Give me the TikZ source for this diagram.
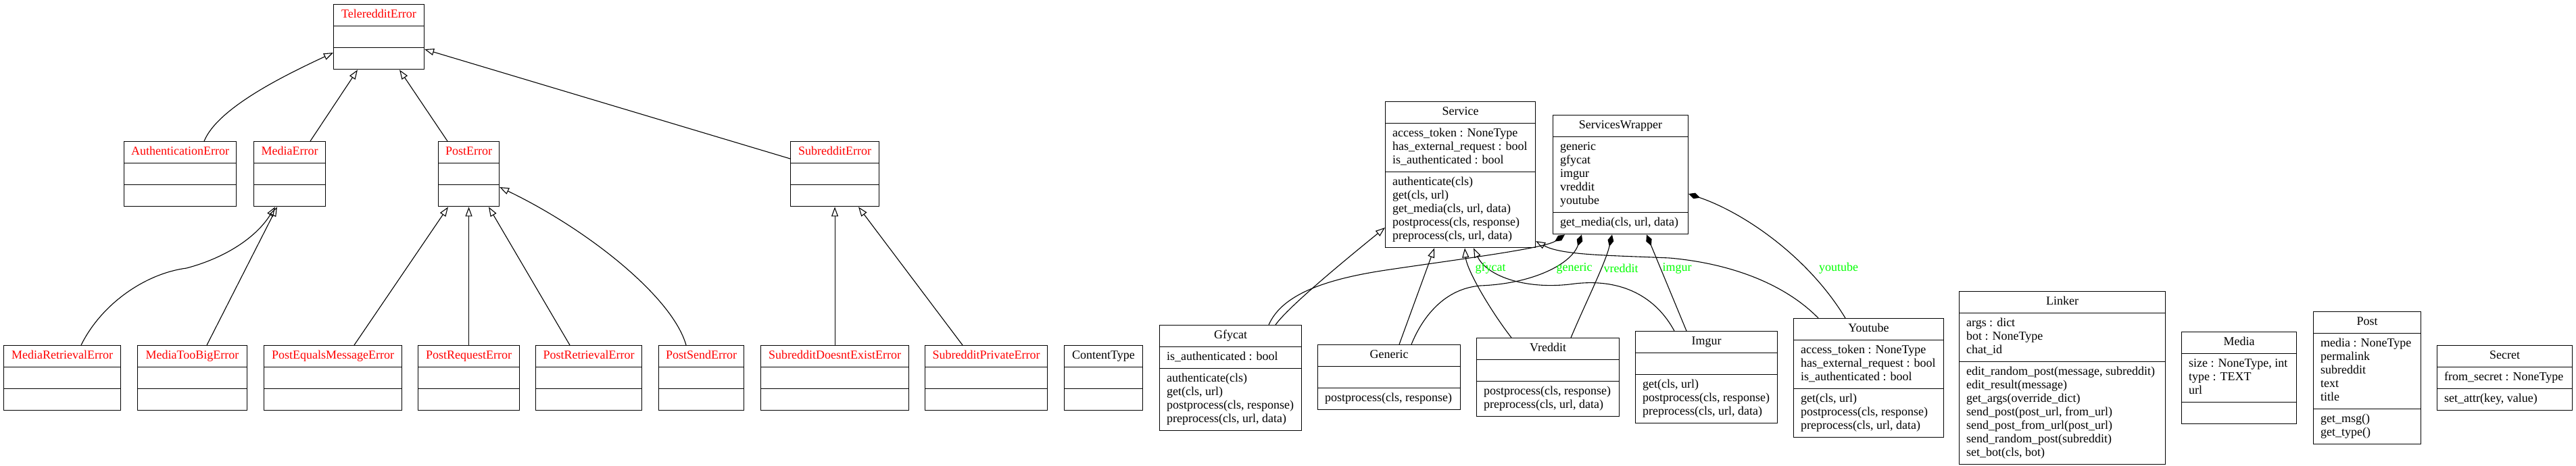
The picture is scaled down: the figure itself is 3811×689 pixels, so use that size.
\documentclass[tikz,border=0pt]{standalone}
\usepackage{fontspec}
\setmainfont{Liberation Serif}
\usetikzlibrary{shapes.multipart,arrows.meta}

\begin{document}
\begin{tikzpicture}[
            x = 1pt, y = -1pt, % one unit per pixel, y downwards
            font = \fontsize{18}{20}\selectfont,
            line width = 1.1pt,
            umlclass/.style = {draw, rectangle split, rectangle split parts=3,
                rectangle split part align={center,left,left}, align=left,
                inner xsep=10.5pt, inner ysep=5.5pt, anchor=north west,
                minimum width=#1},
            inherit/.style = {-{Triangle[open,length=14pt,width=10pt]}}, % is-a
            compose/.style = {{Diamond[length=18pt,width=9pt]}-}, % owns
            role/.style = {text=green, inner sep=0pt}
        ]

\useasboundingbox (0,0) rectangle (3811,689);

% error classes
\node[umlclass=134pt] (TeleredditError) at (493,6) {\strut\textcolor{red}{TeleredditError}\nodepart{two}\strut\nodepart{three}\strut};
\node[umlclass=166pt] (AuthenticationError) at (183,209) {\strut\textcolor{red}{AuthenticationError}\nodepart{two}\strut\nodepart{three}\strut};
\node[umlclass=106pt] (MediaError) at (375,209) {\strut\textcolor{red}{MediaError}\nodepart{two}\strut\nodepart{three}\strut};
\node[umlclass=90pt] (PostError) at (648,209) {\strut\textcolor{red}{PostError}\nodepart{two}\strut\nodepart{three}\strut};
\node[umlclass=131pt] (SubredditError) at (1169,209) {\strut\textcolor{red}{SubredditError}\nodepart{two}\strut\nodepart{three}\strut};

\node[umlclass=173pt] (MediaRetrievalError) at (5,511) {\strut\textcolor{red}{MediaRetrievalError}\nodepart{two}\strut\nodepart{three}\strut};
\node[umlclass=162pt] (MediaTooBigError) at (203,511) {\strut\textcolor{red}{MediaTooBigError}\nodepart{two}\strut\nodepart{three}\strut};
\node[umlclass=204pt] (PostEqualsMessageError) at (390,511) {\strut\textcolor{red}{PostEqualsMessageError}\nodepart{two}\strut\nodepart{three}\strut};
\node[umlclass=150pt] (PostRequestError) at (618,511) {\strut\textcolor{red}{PostRequestError}\nodepart{two}\strut\nodepart{three}\strut};
\node[umlclass=157pt] (PostRetrievalError) at (792,511) {\strut\textcolor{red}{PostRetrievalError}\nodepart{two}\strut\nodepart{three}\strut};
\node[umlclass=126pt] (PostSendError) at (974,511) {\strut\textcolor{red}{PostSendError}\nodepart{two}\strut\nodepart{three}\strut};
\node[umlclass=219pt] (SubredditDoesntExistError) at (1125,511) {\strut\textcolor{red}{SubredditDoesntExistError}\nodepart{two}\strut\nodepart{three}\strut};
\node[umlclass=181pt] (SubredditPrivateError) at (1368,511) {\strut\textcolor{red}{SubredditPrivateError}\nodepart{two}\strut\nodepart{three}\strut};
\node[umlclass=116pt] (ContentType) at (1574,511) {\strut ContentType\nodepart{two}\strut\nodepart{three}\strut};

% services
\node[umlclass=222pt] (Service) at (2049,150) {\strut Service
  \nodepart{two}\strut access\_token : NoneType\\\strut has\_external\_request : bool\\\strut is\_authenticated : bool
  \nodepart{three}\strut authenticate(cls)\\\strut get(cls, url)\\\strut get\_media(cls, url, data)\\\strut postprocess(cls, response)\\\strut preprocess(cls, url, data)};
\node[umlclass=200pt] (ServicesWrapper) at (2297,170) {\strut ServicesWrapper
  \nodepart{two}\strut generic\\\strut gfycat\\\strut imgur\\\strut vreddit\\\strut youtube
  \nodepart{three}\strut get\_media(cls, url, data)};

\node[umlclass=210pt] (Gfycat) at (1715,481) {\strut Gfycat
  \nodepart{two}\strut is\_authenticated : bool
  \nodepart{three}\strut authenticate(cls)\\\strut get(cls, url)\\\strut postprocess(cls, response)\\\strut preprocess(cls, url, data)};
\node[umlclass=211pt] (Generic) at (1949,510) {\strut Generic
  \nodepart{two}\strut
  \nodepart{three}\strut postprocess(cls, response)};
\node[umlclass=211pt] (Vreddit) at (2184,500) {\strut Vreddit
  \nodepart{two}\strut
  \nodepart{three}\strut postprocess(cls, response)\\\strut preprocess(cls, url, data)};
\node[umlclass=210pt] (Imgur) at (2419,490) {\strut Imgur
  \nodepart{two}\strut
  \nodepart{three}\strut get(cls, url)\\\strut postprocess(cls, response)\\\strut preprocess(cls, url, data)};
\node[umlclass=222pt] (Youtube) at (2653,471) {\strut Youtube
  \nodepart{two}\strut access\_token : NoneType\\\strut has\_external\_request : bool\\\strut is\_authenticated : bool
  \nodepart{three}\strut get(cls, url)\\\strut postprocess(cls, response)\\\strut preprocess(cls, url, data)};

% other classes
\node[umlclass=305pt] (Linker) at (2898,431) {\strut Linker
  \nodepart{two}\strut args : dict\\\strut bot : NoneType\\\strut chat\_id
  \nodepart{three}\strut edit\_random\_post(message, subreddit)\\\strut edit\_result(message)\\\strut get\_args(override\_dict)\\\strut send\_post(post\_url, from\_url)\\\strut send\_post\_from\_url(post\_url)\\\strut send\_random\_post(subreddit)\\\strut set\_bot(cls, bot)};
\node[umlclass=170pt] (Media) at (3227,491) {\strut Media
  \nodepart{two}\strut size : NoneType, int\\\strut type : TEXT\\\strut url
  \nodepart{three}\strut};
\node[umlclass=159pt] (Post) at (3422,461) {\strut Post
  \nodepart{two}\strut media : NoneType\\\strut permalink\\\strut subreddit\\\strut text\\\strut title
  \nodepart{three}\strut get\_msg()\\\strut get\_type()};
\node[umlclass=200pt] (Secret) at (3605,511) {\strut Secret
  \nodepart{two}\strut from\_secret : NoneType
  \nodepart{three}\strut set\_attr(key, value)};

% error hierarchy
\draw[inherit] ([xshift=119pt]AuthenticationError.north west) .. controls (322,160) and (420,112) .. ([yshift=-72pt]TeleredditError.north west);
\draw[inherit] ([xshift=84pt]MediaError.north west) -- ([xshift=36pt]TeleredditError.south west);
\draw[inherit] ([xshift=14pt]PostError.north west) -- ([xshift=98pt]TeleredditError.south west);
\draw[inherit] ([yshift=-26pt]SubredditError.north west) -- ([yshift=-67pt]TeleredditError.north east);

\draw[inherit] ([xshift=115pt]MediaRetrievalError.north west) .. controls (150,450) and (215,405) .. (276,397) .. controls (336,381) and (380,350) .. ([xshift=32pt]MediaError.south west);
\draw[inherit] ([xshift=103pt]MediaTooBigError.north west) -- ([xshift=35pt]MediaError.south west);
\draw[inherit] ([xshift=134pt]PostEqualsMessageError.north west) -- ([xshift=15pt]PostError.south west);
\draw[inherit] (PostRequestError.north) -- (PostError.south);
\draw[inherit] ([xshift=51pt]PostRetrievalError.north west) -- ([xshift=75pt]PostError.south west);
\draw[inherit] ([xshift=41pt]PostSendError.north west) .. controls (995,440) and (870,340) .. ([yshift=-68pt]PostError.north east);
\draw[inherit] (SubredditDoesntExistError.north) -- (SubredditError.south);
\draw[inherit] ([xshift=56pt]SubredditPrivateError.north west) -- ([xshift=101pt]SubredditError.south west);

% services
\draw[inherit] ([xshift=172pt]Gfycat.north west) .. controls (1905,455) and (1990,385) .. ([yshift=-187pt]Service.north west);
\draw[inherit] ([xshift=121pt]Generic.north west) -- ([xshift=73pt]Service.south west);
\draw[inherit] ([xshift=52pt]Vreddit.north west) .. controls (2205,460) and (2170,400) .. ([xshift=118pt]Service.south west);
\draw[inherit] ([xshift=58pt]Imgur.north west) .. controls (2450,440) and (2400,412) .. (2330,420) .. controls (2260,430) and (2200,410) .. ([xshift=131pt]Service.south west);
\draw[inherit] ([xshift=37pt]Youtube.north west) .. controls (2640,420) and (2560,390) .. (2470,382) .. controls (2380,378) and (2310,378) .. ([yshift=-207pt]Service.north east);

\draw[compose] ([xshift=18pt]ServicesWrapper.south west) .. controls (2285,368) and (2150,385) .. (2050,400) .. controls (1950,415) and (1895,440) .. ([xshift=162pt]Gfycat.north west);
\draw[compose] ([xshift=43pt]ServicesWrapper.south west) .. controls (2325,390) and (2270,420) .. (2190,423) .. controls (2130,428) and (2100,480) .. ([xshift=139pt]Generic.north west);
\draw[compose] ([xshift=88pt]ServicesWrapper.south west) .. controls (2375,390) and (2345,450) .. ([xshift=140pt]Vreddit.north west);
\draw[compose] ([xshift=139pt]ServicesWrapper.south west) -- ([xshift=76pt]Imgur.north west);
\draw[compose] ([yshift=-117pt]ServicesWrapper.north east) .. controls (2580,315) and (2675,380) .. ([xshift=77pt]Youtube.north west);

\node[role] (lblGfycat) at (2205,397) {gfycat};
\node[role] (lblGeneric) at (2329,397) {generic};
\node[role] (lblVreddit) at (2398,397) {vreddit};
\node[role] (lblImgur) at (2481,397) {imgur};
\node[role] (lblYoutube) at (2720,397) {youtube};
\end{tikzpicture}
\end{document}
